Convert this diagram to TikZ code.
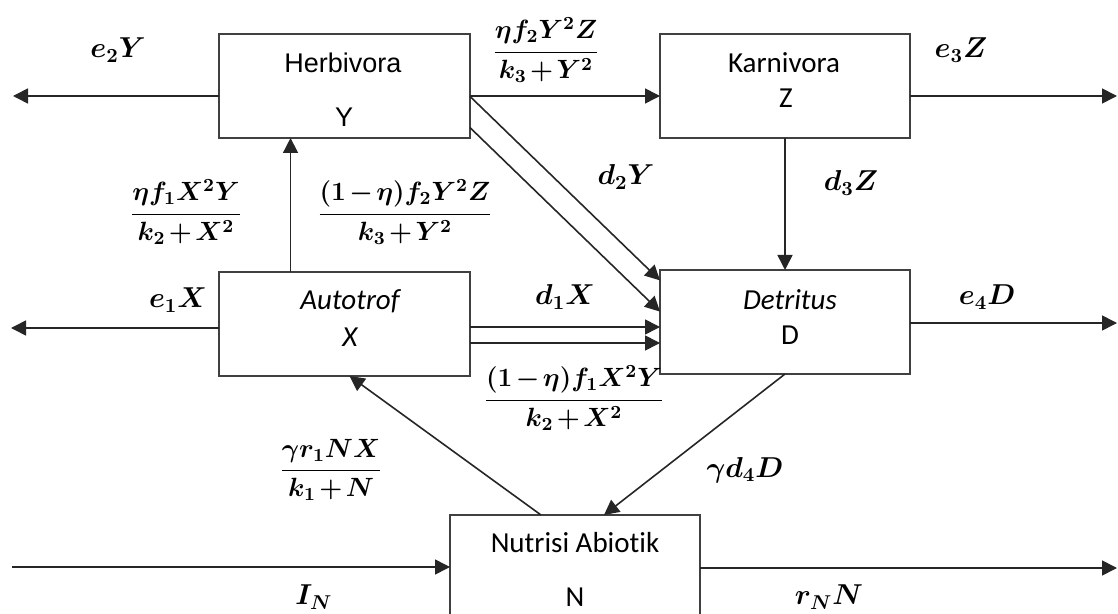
\RequirePackage{fix-cm}
\documentclass[tikz,border=0pt]{standalone}
\usepackage{amsmath}
\usepackage{fontspec}
\newfontfamily\calibrifont[Ligatures=NoCommon]{Carlito}
\newfontfamily\arialfont{Liberation Sans}
\usetikzlibrary{arrows.meta,calc}

\newcommand{\ratefrac}[2]{\medmuskip=2mu\relax\dfrac{#1}{#2}}

\tikzset{
	compartment/.style={draw=black!75, line width=0.6pt, inner sep=0pt, outer sep=0pt},
	fluxarrow/.style={-{Triangle[length=7.5pt,width=7.5pt]}, line width=0.8pt, black!85},
	ratelabel/.style={font=\Large\boldmath, inner sep=0pt},
	fraclabel/.style={font=\fontsize{13.2}{15}\selectfont\boldmath, inner sep=0pt},
	boxtext/.style={font=\fontsize{14.5}{17}\selectfont\calibrifont, inner sep=0pt},
}

\begin{document}
\begin{tikzpicture}[x=0.5pt,y=-0.5pt]
		\useasboundingbox (0,0) rectangle (1118,614);
		\clip (0,0) rectangle (1118,614);
		% compartments
			\node [compartment, minimum width=125.5pt, minimum height=52pt] (herb) at (344.5,86) {};
			\node [compartment, minimum width=125pt, minimum height=52pt] (karn) at (785,86) {};
			\node [compartment, minimum width=125.5pt, minimum height=52pt] (auto) at (344.5,324) {};
			\node [compartment, minimum width=125pt, minimum height=52pt] (detr) at (785,322) {};
			\node [compartment, minimum width=125pt, minimum height=65pt] (nutr) at (575,580) {};
		% names inside the boxes
			\node [boxtext, font=\fontsize{13.5}{16}\selectfont\arialfont] (herbname) at (343,63) {Herbivora};
			\node [boxtext, font=\fontsize{13.5}{16}\selectfont\arialfont] (herbvar) at (344,117) {Y};
			\node [boxtext] (karnname) at (784,63) {Karnivora};
			\node [boxtext] (karnvar) at (786,98) {Z};
			\node [boxtext, font=\fontsize{14.5}{17}\selectfont\calibrifont\itshape] (autoname) at (350,301) {Autotrof};
			\node [boxtext, font=\fontsize{14.5}{17}\selectfont\calibrifont\itshape] (autovar) at (350,337) {X};
			\node [boxtext, font=\fontsize{14.5}{17}\selectfont\calibrifont\itshape] (detrname) at (790,300) {Detritus};
			\node [boxtext] (detrvar) at (790,335) {D};
			\node [boxtext] (nutrname) at (575,543) {Nutrisi Abiotik};
			\node [boxtext] (nutrvar) at (575,597) {N};
		% free ends and levels
			\coordinate (e2out) at (13,96);
			\coordinate (e3out) at (1117,96);
			\coordinate (e1out) at (11,328);
			\coordinate (e4out) at (1117,323);
			\coordinate (inN) at (12,567);
			\coordinate (rNout) at (1117,568);
			\coordinate (d1a) at (0,327);
			\coordinate (d1b) at (0,343);
			\coordinate (upfoot) at ($(auto.north west)!0.285!(auto.north east)$);
		% flows between compartments
			\draw [fluxarrow] (herb.west |- e2out) -- (e2out);
			\draw [fluxarrow] (herb.east |- e2out) -- (karn.west |- e2out);
			\draw [fluxarrow] (karn.east |- e3out) -- (e3out);
			\draw [fluxarrow] (karn.south) -- (detr.north);
			\draw [fluxarrow] ($(herb.north east)!0.6!(herb.south east)$) -- ($(detr.north west)!0.1!(detr.south west)$);
			\draw [fluxarrow] ($(herb.north east)!0.9!(herb.south east)$) -- ($(detr.north west)!0.4!(detr.south west)$);
			\draw [fluxarrow] (upfoot) -- (upfoot |- herb.south);
			\draw [fluxarrow] (auto.west |- e1out) -- (e1out);
			\draw [fluxarrow] (auto.east |- d1a) -- (detr.west |- d1a);
			\draw [fluxarrow] (auto.east |- d1b) -- (detr.west |- d1b);
			\draw [fluxarrow] (detr.east |- e4out) -- (e4out);
			\draw [fluxarrow] (detr.south) -- ($(nutr.north west)!0.616!(nutr.north east)$);
			\draw [fluxarrow] ($(nutr.north west)!0.364!(nutr.north east)$) -- ($(auto.south west)!0.52!(auto.south east)$);
			\draw [fluxarrow] (inN) -- (nutr.west |- inN);
			\draw [fluxarrow] (nutr.east |- rNout) -- (rNout);
		% rates
			\node [ratelabel] (e2lab) at (118,50) {$e_2Y$};
			\node [fraclabel] (predlab) at (546,50) {$\ratefrac{\eta f_2Y^2Z}{k_3+Y^2}$};
			\node [ratelabel] (e3lab) at (961,50) {$e_3Z$};
			\node [fraclabel] (grazlab) at (186,212) {$\ratefrac{\eta f_1X^2Y}{k_2+X^2}$};
			\node [fraclabel] (predloss) at (405,212) {$\ratefrac{(1-\eta)f_2Y^2Z}{k_3+Y^2}$};
			\node [ratelabel] (d2lab) at (626,177) {$d_2Y$};
			\node [ratelabel] (d3lab) at (851,183) {$d_3Z$};
			\node [ratelabel] (e1lab) at (178,300) {$e_1X$};
			\node [ratelabel] (d1lab) at (565,297) {$d_1X$};
			\node [ratelabel] (e4lab) at (987,297) {$e_4D$};
			\node [fraclabel] (grazloss) at (574,398) {$\ratefrac{(1-\eta)f_1X^2Y}{k_2+X^2}$};
			\node [fraclabel] (uptake) at (331,470) {$\ratefrac{\gamma r_1NX}{k_1+N}$};
			\node [ratelabel] (recyc) at (745,470) {$\gamma d_4D$};
			\node [ratelabel] (inlab) at (314,597) {$I_N$};
			\node [ratelabel] (rNlab) at (829,597) {$r_NN$};
	\end{tikzpicture}
\end{document}
